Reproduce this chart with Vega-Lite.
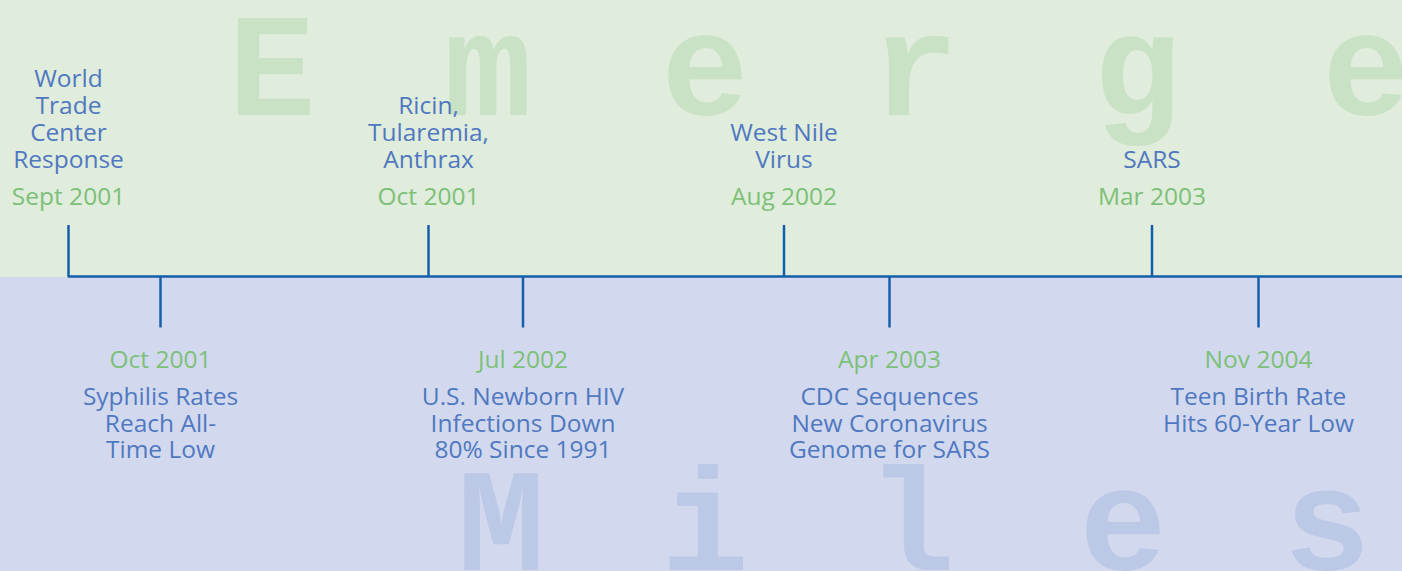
{
  "$schema": "https://vega.github.io/schema/vega-lite/v6.json",
  "width": 1402,
  "height": 571,
  "autosize": {"type": "none"},
  "padding": 0,
  "background": "#e0ecdc",
  "config": {"view": {"stroke": null}},
  "datasets": {
    "bands": [
      {"band": "top", "y0": 0, "y1": 277},
      {"band": "bottom", "y0": 277, "y1": 571}
    ],
    "letters": [
      {"ch": "E", "x": 272, "y": 115, "word": "Emerge"},
      {"ch": "m", "x": 488, "y": 115, "word": "Emerge"},
      {"ch": "e", "x": 705, "y": 115, "word": "Emerge"},
      {"ch": "r", "x": 915, "y": 115, "word": "Emerge"},
      {"ch": "g", "x": 1137, "y": 115, "word": "Emerge"},
      {"ch": "e", "x": 1366, "y": 115, "word": "Emerge"},
      {"ch": "M", "x": 501, "y": 570, "word": "Miles"},
      {"ch": "i", "x": 705, "y": 570, "word": "Miles"},
      {"ch": "l", "x": 911, "y": 570, "word": "Miles"},
      {"ch": "e", "x": 1123, "y": 570, "word": "Miles"},
      {"ch": "s", "x": 1327, "y": 570, "word": "Miles"}
    ],
    "timeline": [{"x0": 68, "x1": 1402, "y": 276.5}],
    "events": [
      {"pos": 68.5, "side": "up", "date": "Sept 2001", "label": "World\nTrade\nCenter\nResponse"},
      {"pos": 160.5, "side": "down", "date": "Oct 2001", "label": "Syphilis Rates\nReach All-\nTime Low"},
      {"pos": 428.5, "side": "up", "date": "Oct 2001", "label": "Ricin,\nTularemia,\nAnthrax"},
      {"pos": 523, "side": "down", "date": "Jul 2002", "label": "U.S. Newborn HIV\nInfections Down\n80% Since 1991"},
      {"pos": 784, "side": "up", "date": "Aug 2002", "label": "West Nile\nVirus"},
      {"pos": 889.5, "side": "down", "date": "Apr 2003", "label": "CDC Sequences\nNew Coronavirus\nGenome for SARS"},
      {"pos": 1152, "side": "up", "date": "Mar 2003", "label": "SARS"},
      {"pos": 1258.5, "side": "down", "date": "Nov 2004", "label": "Teen Birth Rate\nHits 60-Year Low"}
    ]
  },
  "layer": [
    {
      "data": {"name": "bands"},
      "mark": {"type": "rect"},
      "encoding": {
        "y": {"field": "y0", "type": "quantitative", "scale": {"domain": [0, 571], "reverse": true}, "axis": null},
        "y2": {"field": "y1"},
        "color": {"field": "band", "type": "nominal", "scale": {"domain": ["top", "bottom"], "range": ["#e0ecdc", "#d2d9ee"]}, "legend": null}
      }
    },
    {
      "data": {"name": "letters"},
      "mark": {"type": "text", "font": "Liberation Mono", "fontWeight": "bold", "fontSize": 146, "align": "center", "baseline": "alphabetic"},
      "encoding": {
        "x": {"field": "x", "type": "quantitative", "scale": {"domain": [0, 1402]}, "axis": null},
        "y": {"field": "y", "type": "quantitative", "scale": {"domain": [0, 571], "reverse": true}, "axis": null},
        "text": {"field": "ch"},
        "fill": {"field": "word", "type": "nominal", "scale": {"domain": ["Emerge", "Miles"], "range": ["#c9e2c5", "#bbc8e6"]}, "legend": null}
      }
    },
    {
      "data": {"name": "timeline"},
      "mark": {"type": "rule", "color": "#145faa", "strokeWidth": 2.5},
      "encoding": {
        "x": {"field": "x0", "type": "quantitative", "scale": {"domain": [0, 1402]}, "axis": null},
        "x2": {"field": "x1"},
        "y": {"field": "y", "type": "quantitative", "scale": {"domain": [0, 571], "reverse": true}, "axis": null}
      }
    },
    {
      "data": {"name": "events"},
      "transform": [{"filter": "datum.side === 'up'"}],
      "layer": [
        {
          "mark": {"type": "rule", "color": "#145faa", "strokeWidth": 2.5},
          "encoding": {
            "x": {"field": "pos", "type": "quantitative", "scale": {"domain": [0, 1402]}, "axis": null},
            "y": {"datum": 225, "type": "quantitative", "scale": {"domain": [0, 571], "reverse": true}, "axis": null},
            "y2": {"datum": 277}
          }
        },
        {
          "mark": {"type": "text", "font": "Open Sans", "fontSize": 24.5, "align": "center", "baseline": "alphabetic", "color": "#7dc078"},
          "encoding": {
            "x": {"field": "pos", "type": "quantitative", "scale": {"domain": [0, 1402]}, "axis": null},
            "y": {"datum": 205, "type": "quantitative", "scale": {"domain": [0, 571], "reverse": true}, "axis": null},
            "text": {"field": "date"}
          }
        },
        {
          "mark": {"type": "text", "font": "Open Sans", "fontSize": 24.5, "align": "center", "baseline": "alphabetic", "lineBreak": "\n", "lineHeight": 27, "color": "#5078c0", "dy": {"expr": "-27 * (length(split(datum.label, '\\n')) - 1)"}},
          "encoding": {
            "x": {"field": "pos", "type": "quantitative", "scale": {"domain": [0, 1402]}, "axis": null},
            "y": {"datum": 168, "type": "quantitative", "scale": {"domain": [0, 571], "reverse": true}, "axis": null},
            "text": {"field": "label"}
          }
        }
      ]
    },
    {
      "data": {"name": "events"},
      "transform": [{"filter": "datum.side === 'down'"}],
      "layer": [
        {
          "mark": {"type": "rule", "color": "#145faa", "strokeWidth": 2.5},
          "encoding": {
            "x": {"field": "pos", "type": "quantitative", "scale": {"domain": [0, 1402]}, "axis": null},
            "y": {"datum": 276, "type": "quantitative", "scale": {"domain": [0, 571], "reverse": true}, "axis": null},
            "y2": {"datum": 327.5}
          }
        },
        {
          "mark": {"type": "text", "font": "Open Sans", "fontSize": 24.5, "align": "center", "baseline": "alphabetic", "color": "#7dc078"},
          "encoding": {
            "x": {"field": "pos", "type": "quantitative", "scale": {"domain": [0, 1402]}, "axis": null},
            "y": {"datum": 368, "type": "quantitative", "scale": {"domain": [0, 571], "reverse": true}, "axis": null},
            "text": {"field": "date"}
          }
        },
        {
          "mark": {"type": "text", "font": "Open Sans", "fontSize": 24.5, "align": "center", "baseline": "alphabetic", "lineBreak": "\n", "lineHeight": 26.5, "color": "#5078c0"},
          "encoding": {
            "x": {"field": "pos", "type": "quantitative", "scale": {"domain": [0, 1402]}, "axis": null},
            "y": {"datum": 405, "type": "quantitative", "scale": {"domain": [0, 571], "reverse": true}, "axis": null},
            "text": {"field": "label"}
          }
        }
      ]
    }
  ]
}
